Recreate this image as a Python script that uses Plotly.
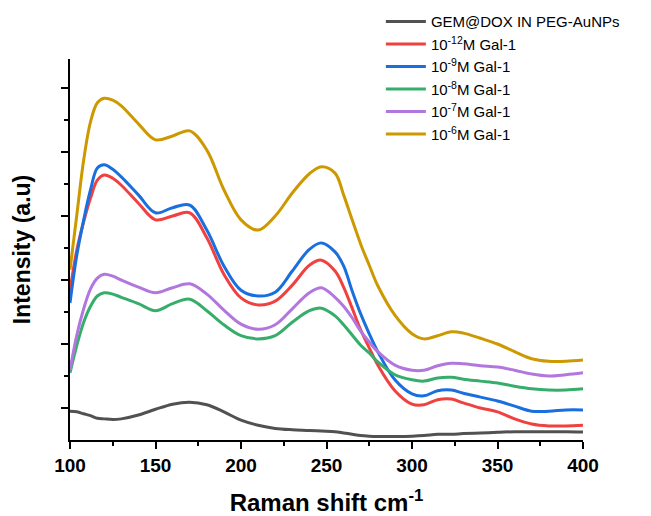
import plotly.graph_objects as go

raman_shift = [100, 104, 108, 112, 116, 120, 125, 130, 140, 150, 160, 170, 180, 190, 200,
               210, 220, 230, 240, 247, 255, 260, 265, 270, 275, 280, 290, 300, 307, 315,
               323, 330, 340, 350, 360, 370, 380, 390, 400]

gem_dox = [450, 440, 410, 380, 340, 330, 320, 330, 390, 480, 560, 590, 550, 440, 310,
           230, 180, 160, 150, 140, 130, 110, 90, 70, 60, 55, 55, 60, 70, 90,
           90, 100, 110, 120, 130, 130, 130, 130, 125]

gal_1e12 = [2340, 2970, 3410, 3780, 4060, 4140, 4090, 3980, 3700, 3440, 3500, 3550, 3160, 2590, 2220,
            2110, 2170, 2420, 2730, 2810, 2640, 2390, 2060, 1720, 1440, 1170, 770, 560, 550, 630,
            640, 580, 500, 440, 330, 250, 220, 220, 230]

gal_1e9 = [2140, 2890, 3440, 3910, 4250, 4300, 4230, 4110, 3830, 3550, 3630, 3670, 3280, 2720, 2340,
           2250, 2310, 2640, 2980, 3080, 2940, 2720, 2330, 1970, 1660, 1380, 940, 720, 690, 770,
           780, 730, 670, 610, 530, 450, 450, 470, 470]

gal_1e8 = [1050, 1480, 1840, 2090, 2250, 2300, 2280, 2230, 2130, 2020, 2130, 2200, 2020, 1800, 1630,
           1580, 1630, 1840, 2020, 2060, 1940, 1800, 1640, 1480, 1360, 1220, 1020, 940, 920, 970,
           980, 950, 920, 890, 840, 800, 780, 780, 800]

gal_1e7 = [1090, 1640, 2050, 2360, 2530, 2590, 2560, 2500, 2390, 2300, 2380, 2440, 2280, 2030, 1810,
           1730, 1800, 2050, 2300, 2380, 2230, 2090, 1910, 1700, 1530, 1380, 1170, 1090, 1090, 1160,
           1200, 1190, 1160, 1140, 1090, 1030, 1000, 1020, 1050]

gal_1e6 = [2660, 3520, 4375, 4970, 5270, 5340, 5310, 5220, 4940, 4690, 4750, 4830, 4530, 3910, 3440,
           3280, 3500, 3860, 4160, 4270, 4170, 3830, 3440, 3060, 2730, 2410, 1950, 1660, 1580, 1630,
           1690, 1670, 1590, 1500, 1380, 1270, 1230, 1230, 1250]

series_names = ["GEM@DOX IN PEG-AuNPs", "10<sup>-12</sup>M Gal-1", "10<sup>-9</sup>M Gal-1",
                "10<sup>-8</sup>M Gal-1", "10<sup>-7</sup>M Gal-1", "10<sup>-6</sup>M Gal-1"]
series_values = [gem_dox, gal_1e12, gal_1e9, gal_1e8, gal_1e7, gal_1e6]
series_colors = ["#515151", "#F14040", "#1A6FDF", "#37AD6B", "#B177DE", "#CC9900"]

x_ticks = [100, 150, 200, 250, 300, 350, 400]

FONT = "Liberation Sans, Arial, sans-serif"

fig = go.Figure()
for name, vals, col in zip(series_names, series_values, series_colors):
    fig.add_trace(go.Scatter(
        x=raman_shift, y=vals, name=name, mode="lines",
        line=dict(color=col, width=3, shape="spline", smoothing=1.0),
    ))

fig.update_layout(
    template="none",
    width=651, height=516,
    margin=dict(l=70, r=68, t=59, b=76, autoexpand=False),
    paper_bgcolor="white", plot_bgcolor="white",
    font=dict(family=FONT, color="black"),
    showlegend=True,
    legend=dict(
        x=0.606, y=1.141, xanchor="left", yanchor="top",
        font=dict(family=FONT, size=15, color="black"),
        bgcolor="rgba(0,0,0,0)", itemwidth=40,
        tracegroupgap=0,
    ),
)

fig.update_xaxes(
    automargin=False,
    range=[100, 400], tickvals=x_ticks, ticktext=[f"<b>{v}</b>" for v in x_ticks],
    showgrid=False, zeroline=False,
    showline=True, linecolor="black", linewidth=2,
    ticks="outside", ticklen=7, tickwidth=1.5, tickcolor="black",
    tickfont=dict(family=FONT, size=19, color="black"),
    minor=dict(dtick=25, tick0=100, ticks="outside", ticklen=4, tickwidth=1.5, tickcolor="black"),
    title=dict(text="<b>Raman shift cm<sup>-1</sup></b>", font=dict(family=FONT, size=24, color="black"), standoff=27),
)

fig.update_yaxes(
    automargin=False,
    range=[0, 5953], tickvals=[500, 1500, 2500, 3500, 4500, 5500], showticklabels=False,
    showgrid=False, zeroline=False,
    showline=True, linecolor="black", linewidth=2,
    ticks="outside", ticklen=7, tickwidth=1.5, tickcolor="black",
    minor=dict(tickvals=[1000, 2000, 3000, 4000, 5000], ticks="outside", ticklen=4, tickwidth=1.5, tickcolor="black"),
    title=dict(text="<b>Intensity (a.u)</b>", font=dict(family=FONT, size=23, color="black"), standoff=24),
)

fig.write_html("out.html")
